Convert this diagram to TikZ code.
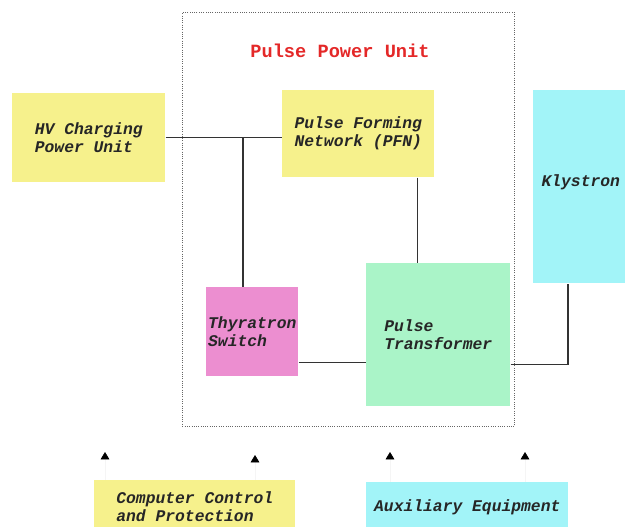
\documentclass[tikz,border=0pt]{standalone}
\usepackage{fontspec}
\setmonofont{Liberation Mono}
\usetikzlibrary{arrows.meta}
\definecolor{padyellow}{RGB}{246,241,140}
\definecolor{padcyan}{RGB}{162,244,248}
\definecolor{padpink}{RGB}{236,142,208}
\definecolor{padgreen}{RGB}{170,244,200}
\definecolor{titlered}{RGB}{228,40,40}
\tikzset{
  unit/.style={rectangle, anchor=north west, inner sep=1pt, align=left, text=black!85,
    font=\ttfamily\bfseries\itshape\fontsize{12.25}{13.5}\selectfont},
  link/.style={draw=black!80, line width=0.8pt},
  feed/.style={draw=black!4, line width=0.5pt, -{Triangle[width=6.5pt,length=5.5pt,color=black]}}
}
\begin{document}
\begin{tikzpicture}[x=0.75pt,y=-0.75pt]
  \useasboundingbox (0,0) rectangle (625,527);
  \node[draw=black!60, densely dotted, line width=0.7pt, anchor=north west,
        minimum width=249pt, minimum height=310.5pt] (ppu) at (182,12) {};
  \node[font=\ttfamily\bfseries\fontsize{14}{16}\selectfont, text=titlered] (ppulabel) at (340,51) {Pulse Power Unit};
  \node[unit, fill=padyellow, minimum width=114.75pt, minimum height=66.75pt] (hv) at (12,93) {HV Charging\\Power Unit};
  \node[unit, fill=padyellow, minimum width=114pt, minimum height=65.25pt] (pfn) at (282,90) {Pulse Forming\\Network (PFN)};
  \node[unit, fill=padcyan, minimum width=71.25pt, minimum height=144.75pt, text depth=9pt] (kly) at (533,90) {Klystron};
  \node[unit, fill=padpink, minimum width=69pt, minimum height=66.75pt] (thy) at (206,287) {Thyratron\\Switch};
  \node[unit, fill=padgreen, minimum width=108pt, minimum height=107.25pt] (pt) at (366,263) {Pulse\\Transformer};
  \node[unit, fill=padyellow, minimum width=150.75pt, minimum height=39pt] (ccp) at (94,480) {Computer Control\\and Protection};
  \node[unit, fill=padcyan, minimum width=151.5pt, minimum height=37.5pt] (aux) at (366,482) {Auxiliary Equipment};

  \coordinate (tap) at (hv.east -| 243,0);
  \draw[link] (hv.east) -- (hv.east -| pfn.west);
  \draw[link] (tap) -- (tap |- thy.north);
  \draw[link] ([xshift=-12.75pt]pfn.south east) -- ([xshift=-12.75pt]pfn.south east |- pt.north);
  \draw[link] ([yshift=10.5pt]thy.south east) -- ([yshift=10.5pt]thy.south east -| pt.west);
  \draw[link] ([yshift=31.5pt]pt.south east) -| ([xshift=26.25pt]kly.south west);

  \coordinate (c1) at (105,452);
  \coordinate (c2) at (255,455);
  \coordinate (a1) at (390,452);
  \coordinate (a2) at (525,452);
  \draw[feed] (c1 |- ccp.north) -- (c1);
  \draw[feed] (c2 |- ccp.north) -- (c2);
  \draw[feed] (a1 |- aux.north) -- (a1);
  \draw[feed] (a2 |- aux.north) -- (a2);
\end{tikzpicture}
\end{document}
